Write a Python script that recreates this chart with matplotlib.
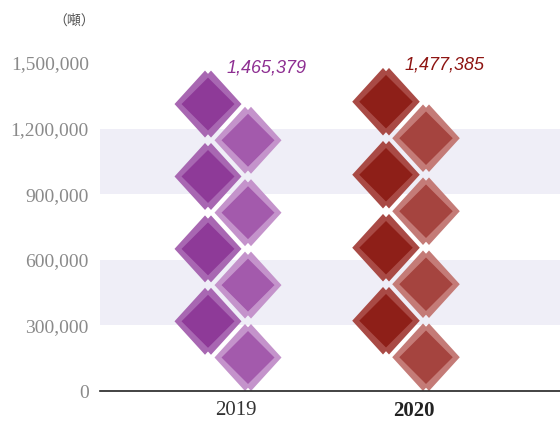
import matplotlib.pyplot as plt
from matplotlib.patches import Polygon

# data
years = ["2019", "2020"]
values = [1465379, 1477385]
value_labels = ["1,465,379", "1,477,385"]
y_ticks = [0, 300000, 600000, 900000, 1200000, 1500000]
y_tick_labels = ["0", "300,000", "600,000", "900,000", "1,200,000", "1,500,000"]

# colours: (left outer, left inner, right outer, right inner, label)
palettes = [
    ("#a867b2", "#8e3a98", "#c493cb", "#a35aac", "#8e2f92"),
    ("#a94a45", "#8e1f18", "#c47b77", "#a5443f", "#8e1512"),
]

W, H = 560, 422
fig = plt.figure(figsize=(W / 100, H / 100), dpi=100)
ax_left, ax_bottom, ax_top = 100, 391, 63
ax = fig.add_axes([ax_left / W, (H - ax_bottom) / H, (W - ax_left) / W, (ax_bottom - ax_top) / H])

x_px_per_unit = 178.0
x0_px = 236  # pixel of first category
ax.set_xlim(-(x0_px - ax_left) / x_px_per_unit, (W - x0_px) / x_px_per_unit)
ax.set_ylim(0, 1500000)
y_px_per_unit = (ax_bottom - ax_top) / 1500000

# background bands
for lo, hi in [(300000, 600000), (900000, 1200000)]:
    ax.axhspan(lo, hi, color="#efeef7", lw=0, zorder=0)


def diamond(cx, cy, rx_px, ry_px):
    rx = rx_px / x_px_per_unit
    ry = ry_px / y_px_per_unit
    return [(cx - rx, cy), (cx, cy + ry), (cx + rx, cy), (cx, cy - ry)]


n_icons = 8
ratio = 1.85
offsets_px = [-28, 12]
for i, (v, pal) in enumerate(zip(values, palettes)):
    step = v / (n_icons - 1 + ratio)
    r_out = ratio * step / 2 * y_px_per_unit  # half diagonal in px
    for k in range(n_icons):
        col = 1 if k % 2 == 0 else 0
        cx = i + offsets_px[col] / x_px_per_unit
        cy = ratio * step / 2 + k * step
        outer = pal[2] if col == 1 else pal[0]
        inner = pal[3] if col == 1 else pal[1]
        for dx in (-3, 3):
            ax.add_patch(Polygon(diamond(cx + dx / x_px_per_unit, cy, r_out - 3, r_out),
                                 closed=True, fc=outer, ec="none", zorder=2))
        ax.add_patch(Polygon(diamond(cx, cy, r_out - 7, r_out - 7),
                             closed=True, fc=inner, ec="none", zorder=3))
    ax.text(i + 31 / x_px_per_unit, v - 2 / y_px_per_unit, value_labels[i],
            ha="center", va="baseline", fontsize=13, style="italic",
            family="Liberation Sans", color=pal[4], zorder=4, clip_on=False)

# axes styling
for s in ["top", "right", "left"]:
    ax.spines[s].set_visible(False)
ax.spines["bottom"].set_color("#222222")
ax.spines["bottom"].set_linewidth(1.2)
ax.set_yticks(y_ticks)
ax.set_yticklabels(y_tick_labels, family="Liberation Serif", fontsize=14, color="#8a8a8a")
ax.tick_params(axis="y", length=0, pad=8)
ax.set_xticks([0, 1])
ax.set_xticklabels(years, family="Liberation Serif", fontsize=15, color="#333333")
ax.get_xticklabels()[1].set_fontweight("bold")
ax.get_xticklabels()[1].set_color("#222222")
ax.tick_params(axis="x", length=0, pad=7)

fig.text(74 / W, 1 - 21 / H, "（噸）", ha="center", va="center", fontsize=10,
         family=["Noto Sans CJK TC", "DejaVu Sans"], color="#555555")

fig.savefig("out.png", dpi=100)
